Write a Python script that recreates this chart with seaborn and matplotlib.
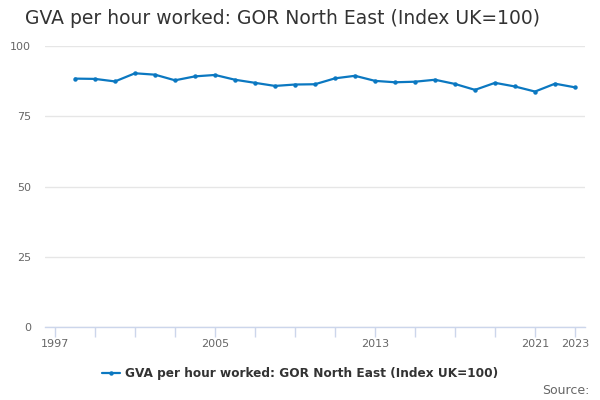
import matplotlib
matplotlib.use("Agg")
import matplotlib.pyplot as plt
import seaborn as sns
import pandas as pd

years = list(range(1998, 2024))
gva_index = [88.4, 88.3, 87.4, 90.3, 89.8, 87.8, 89.2, 89.7, 88.0, 86.9,
             85.8, 86.3, 86.4, 88.5, 89.4, 87.6, 87.1, 87.3, 88.0, 86.5,
             84.4, 86.9, 85.6, 83.8, 86.6, 85.3]
series_name = "GVA per hour worked: GOR North East (Index UK=100)"
y_ticks = [0, 25, 50, 75, 100]
x_ticks = [1997, 1999, 2001, 2003, 2005, 2007, 2009, 2011, 2013, 2015,
           2017, 2019, 2021, 2023]
x_labels = ["1997", "", "", "", "2005", "", "", "", "2013", "", "", "",
            "2021", "2023"]

df = pd.DataFrame({"year": years, "value": gva_index})

sns.set_style("white")
plt.rcParams["font.family"] = ["DejaVu Sans"]

fig = plt.figure(figsize=(6, 4), dpi=100)
ax = fig.add_axes([0.075, 0.182, 0.9, 0.703])

line_color = "#0b78c1"
sns.lineplot(data=df, x="year", y="value", ax=ax, color=line_color,
             linewidth=1.6, marker="o", markersize=3.2,
             markeredgewidth=0, label=series_name)

ax.set_xlim(1996.5, 2023.5)
ax.set_ylim(0, 100)
ax.set_yticks(y_ticks)
ax.set_yticklabels([str(t) for t in y_ticks])
ax.set_xticks(x_ticks)
ax.set_xticklabels(x_labels)
ax.grid(axis="y", color="#e6e6e6", linewidth=1)
ax.set_axisbelow(True)
ax.set_xlabel("")
ax.set_ylabel("")

for side in ["top", "right", "left"]:
    ax.spines[side].set_visible(False)
ax.spines["bottom"].set_color("#ccd6eb")
ax.spines["bottom"].set_linewidth(1)

ax.tick_params(axis="y", left=False, length=0, labelsize=8,
               labelcolor="#666666", pad=10)
ax.tick_params(axis="x", bottom=True, direction="out", length=7.2, width=1,
               color="#ccd6eb", labelsize=8, labelcolor="#666666", pad=1)

fig.text(0.042, 0.955, series_name, fontsize=13.5, color="#333333",
         va="center", ha="left")

# legend centred on the figure, not the axes
leg = ax.legend(loc="upper center", bbox_to_anchor=(0.5, 0.11),
                bbox_transform=fig.transFigure,
                frameon=False, fontsize=8.7, handlelength=1.5,
                handletextpad=0.4)
for txt in leg.get_texts():
    txt.set_color("#333333")
    txt.set_fontweight("bold")

fig.text(0.982, 0.025, "Source:", fontsize=9, color="#666666",
         ha="right", va="center")

fig.savefig("out.png", dpi=100)
